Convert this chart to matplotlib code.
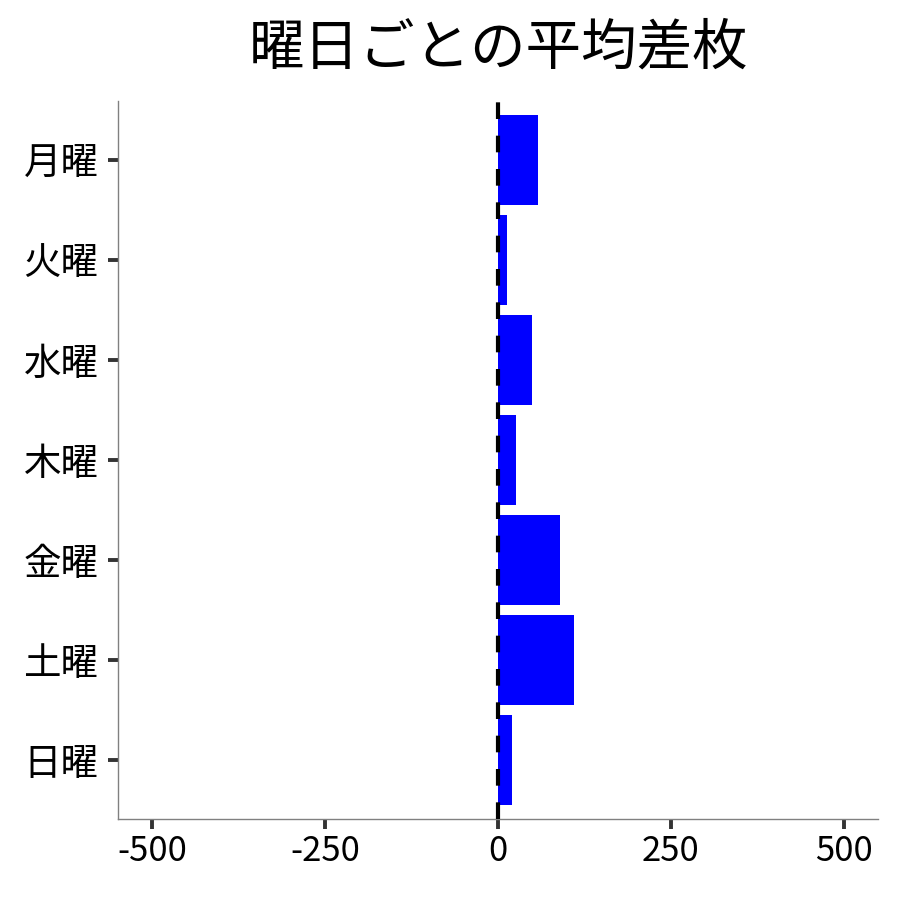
import matplotlib
matplotlib.use("Agg")
import matplotlib.pyplot as plt

plt.rcParams['font.family'] = ['Noto Sans CJK JP', 'DejaVu Sans']

days = ["月曜", "火曜", "水曜", "木曜", "金曜", "土曜", "日曜"]
avg_diff = [57, 13, 49, 26, 90, 109, 20]
xticks = [-500, -250, 0, 250, 500]

fig = plt.figure(figsize=(9, 9), dpi=100)
ax = fig.add_axes([0.131, 0.09, 0.845, 0.798])

ypos = list(range(len(days)))
ax.barh(ypos, avg_diff, height=0.9, color="#0000ff", zorder=2)
ax.axvline(0, color="black", linewidth=3, linestyle=(0, (4, 4)), zorder=3)

ax.set_xlim(-550, 550)
ax.set_ylim(len(days) - 1 + 0.59, -0.59)
ax.set_yticks(ypos)
ax.set_yticklabels(days)
ax.set_xticks(xticks)
ax.set_xticklabels([str(v) for v in xticks])

for s in ["top", "right"]:
    ax.spines[s].set_visible(False)
for s in ["left", "bottom"]:
    ax.spines[s].set_color("#808080")
    ax.spines[s].set_linewidth(1.0)

ax.tick_params(axis="both", length=7, width=2.8, color="#333333", labelcolor="black")
ax.tick_params(axis="x", labelsize=25, pad=4)
ax.tick_params(axis="y", labelsize=27, pad=7)

ax.set_title("曜日ごとの平均差枚", fontsize=40, pad=26)

fig.savefig("out.png", dpi=100)
